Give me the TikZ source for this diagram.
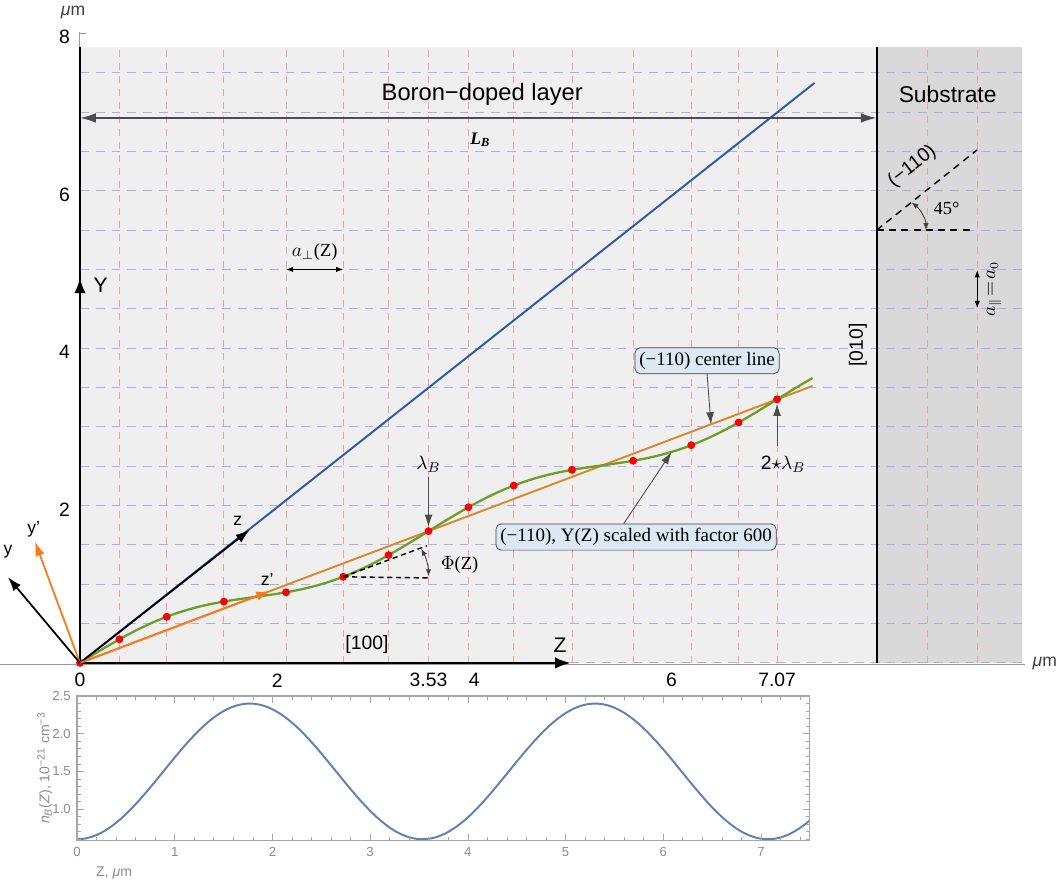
\documentclass[tikz,border=0pt]{standalone}
\usepackage{fontspec}
\setmainfont{Liberation Sans}
\newfontfamily\tms{Liberation Serif}
\usetikzlibrary{arrows.meta,positioning}

\definecolor{layergray}{HTML}{EFEFEF}
\definecolor{subgray}{HTML}{D9D9D9}
\definecolor{zgridred}{HTML}{F0A0A0}
\definecolor{ygridblue}{HTML}{A8AEEE}
\definecolor{mmablue}{HTML}{2F58A6}
\definecolor{mmagreen}{HTML}{6C9F27}
\definecolor{mmaorange}{HTML}{D9892C}
\definecolor{brightorange}{HTML}{FF7818}
\definecolor{plotblue}{HTML}{5E81B5}
\definecolor{boxblue}{HTML}{DCE9F5}

\newcommand{\fsz}[1]{\fontsize{#1pt}{#1pt}\selectfont}

\begin{document}
\begin{tikzpicture}[
x=1.972cm, y=1.574cm,
node distance = 1mm and 1mm,
axisline/.style={line width=1.6pt},
zgrid/.style={draw=zgridred, dash pattern=on 4pt off 3.5pt, line width=0.5pt},
ygrid/.style={draw=ygridblue, dash pattern=on 5pt off 4pt, line width=0.6pt},
dot/.style={circle, fill=red, inner sep=0pt, minimum size=4.5pt},
callout/.style={draw=black!75, fill=boxblue, rounded corners=3pt, inner sep=2.5pt, font=\tms\fsz{10.8}},
pointer/.style={draw=black!70, line width=0.5pt, -{Latex[length=7pt,width=4.5pt]}},
dimarrow/.style={line width=0.5pt, {Latex[length=4pt,width=3pt]}-{Latex[length=4pt,width=3pt]}},
bigtip/.style={-{Latex[length=8pt,width=5.5pt]}},
ticklab/.style={font=\fsz{11}},
ptick/.style={font=\fsz{7.5}, text=black!45},
]
\useasboundingbox (-0.811,-2.884) rectangle (9.970,8.424);

% layer and substrate
\fill[layergray] (0,0) rectangle (8.08,7.83);
\fill[subgray] (8.08,0) rectangle (9.55,7.83);
\draw[black!40, line width=0.6pt] (-0.81,-0.015) -- (9.58,-0.015);

% grid
\foreach \yy in {0,0.5,...,7.5}
  \draw[ygrid] (0,\yy) -- (9.55,\yy);
\foreach \zz in {0.40,0.88,1.46,2.09,2.67,3.13,3.535,3.94,4.40,4.99,5.61,6.20,6.68,7.07,8.59,9.10}
  \draw[zgrid] (\zz,0) -- (\zz,7.83);

% lines
\coordinate (o) at (0,0);
\draw[mmablue, line width=1.1pt] (o) -- (7.45,7.37);
\draw[mmaorange, line width=1.1pt] (o) -- (7.43,3.52);
\draw[mmagreen, line width=1.3pt, samples=150, domain=0:7.43] plot (\x,{0.4737*\x+0.17*sin(360*\x/3.535)});

\node[dot] at (o) {};
\foreach \zz [count=\i] in {0.40,0.88,1.46,2.09,2.67,3.13,3.535,3.94,4.40,4.99,5.61,6.20,6.68,7.07}
  \node[dot] (d\i) at (\zz,{0.4737*\zz+0.17*sin(360*\zz/3.535)}) {};

% axes
\draw[axisline] (o) -- (0,7.83);
\draw[black!40, line width=0.6pt] (0,7.83) -- (0,8.02) (0,8) -- (0.06,8);
\draw[axisline, -{Latex[length=9pt,width=6.5pt]}] (o) -- (0,4.9) coordinate (ytip);
\node[font=\fsz{12}] (ylab) at (0.21,4.8) {Y};
\draw[axisline, -{Latex[length=9pt,width=6.5pt]}] (o) -- (4.98,0) coordinate (ztip);
\node[font=\fsz{12}] (zlab) at (4.87,0.23) {Z};
\draw[line width=1.3pt] (8.08,0) -- (8.08,7.83);

% rotated frames
\draw[line width=1pt, bigtip] (o) -- (1.72,1.69) coordinate (zt);
\node[font=\fsz{10}] (zl) at (1.60,1.80) {z};
\draw[brightorange, line width=1pt, bigtip] (o) -- (1.93,0.914) coordinate (zpt);
\node[font=\fsz{10}] (zpl) at (1.90,1.06) {z'};
\draw[brightorange, line width=1pt, bigtip] (o) -- (-0.456,1.54) coordinate (ypt);
\node[font=\fsz{10}] (ypl) at (-0.47,1.70) {y'};
\draw[line width=1pt, bigtip] (o) -- (-0.73,1.09) coordinate (yt);
\node[font=\fsz{10}] (yl) at (-0.73,1.41) {y};

% labels of the layers
\node[font=\fsz{13.5}] (layer) at (4.08,7.22) {Boron−doped layer};
\node[font=\fsz{13}] (subs) at (8.80,7.22) {Substrate};
\coordinate (lb1) at (0,6.925);
\coordinate (lb2) at (8.08,6.925);
\draw[black!70, line width=1pt, {Latex[length=9pt,width=5.5pt]}-{Latex[length=9pt,width=5.5pt]}] (lb1) -- (lb2);
\node[font=\tms\bfseries\itshape\fsz{10}] (lb) at (4.06,6.65) {L\textsubscript{B}};

\coordinate (ap1) at (2.09,5.0);
\coordinate (ap2) at (2.67,5.0);
\draw[dimarrow] (ap1) -- (ap2);
\node[font=\tms\fsz{10.5}] (apl) at (2.38,5.22) {$a_{\perp}$(Z)};

\node[rotate=90, font=\fsz{11}] (dir010) at (7.89,4.04) {[010]};
\node[font=\fsz{11}] (dir100) at (2.91,0.23) {[100]};

% substrate plane
\coordinate (pc) at (8.08,5.5);
\draw[dash pattern=on 4pt off 3pt, line width=0.8pt] (pc) -- (9.10,6.52);
\draw[dash pattern=on 4pt off 3pt, line width=0.8pt] (pc) -- (9.05,5.5);
\draw[black!75, dimarrow] (8.58,5.5) arc[start angle=0, end angle=45, radius=0.5];
\node[rotate=38, font=\fsz{11}, inner sep=1pt] (plane) at (8.44,6.31) {(−110)};
\node[font=\tms\fsz{10.5}] (ang) at (8.79,5.77) {45°};
\coordinate (ap3) at (9.10,4.99);
\coordinate (ap4) at (9.10,4.51);
\draw[dimarrow] (ap3) -- (ap4);
\node[rotate=90, font=\tms\fsz{10.5}] (apar) at (9.27,4.75) {$a_{\parallel}\!=\!a_0$};

% wavelengths
\node[font=\fsz{11}] (lam) at (3.535,2.52) {$\lambda_B$};
\draw[pointer] (3.535,2.36) -- (d7.north);
\node[font=\fsz{11}] (lam2) at (7.13,2.52) {2$\star\lambda_B$};
\draw[pointer] (7.07,2.76) -- (d14.south);

% angle Phi
\draw[dash pattern=on 3pt off 2pt, line width=0.8pt] (d5.center) -- (3.535,1.08);
\draw[dash pattern=on 3pt off 2pt, line width=0.8pt] (d5.center) -- (3.52,1.49);
\draw[black!75, dimarrow] (3.535,1.10) arc[start angle=0, end angle=24, radius=0.865];
\node[font=\tms\fsz{10.5}] (phi) at (3.85,1.25) {$\Phi$(Z)};

% callouts
\node[callout] (cline) at (6.36,3.84) {(−110) center line};
\coordinate (cltip) at (6.40,3.03);
\draw[pointer] (cline.south) -- (cltip);
\node[callout] (cwave) at (5.64,1.60) {(−110), Y(Z) scaled with factor 600};
\coordinate (cwtip) at (6.0,2.68);
\draw[pointer] ([xshift=-7pt]cwave.north) -- (cwtip);

% ticks
\foreach \zz/\lab in {0/0,2/2,3.535/3.53,4/4,6/6,7.07/7.07}
  \node[ticklab] at (\zz,-0.22) {\lab};
\foreach \yy in {2,4,6,8}
  \node[ticklab, anchor=east] at (-0.04,\yy-0.05) {\yy};
\node[font=\fsz{10}, text=black!75] (umy) at (-0.07,8.27) {\textit{μ}m};
\node[font=\fsz{10}, text=black!75, anchor=west] (umz) at (9.60,0) {\textit{μ}m};

% doping profile
\begin{scope}[shift={(-0.030,-2.815)}, xscale=0.991, yscale=0.958]
  \draw[plotblue, line width=1.1pt, domain=0:7.5, samples=150] plot (\x,{1.5-0.9*cos(360*\x/3.535)});
  \draw[black!35, line width=0.6pt] (0,0.58) rectangle (7.5,2.5);
  \foreach \x in {0,...,7} {
    \draw[black!35] (\x,0.58) -- ++(0,4pt) (\x,2.5) -- ++(0,-4pt);
    \node[ptick, below] at (\x,0.58) {\x};
  }
  \foreach \x in {0.2,0.4,...,7.41}
    \draw[black!35] (\x,0.58) -- ++(0,2.5pt) (\x,2.5) -- ++(0,-2.5pt);
  \foreach \v in {1.0,1.5,2.0,2.5} {
    \draw[black!35] (0,\v) -- ++(4pt,0) (7.5,\v) -- ++(-4pt,0);
    \node[ptick, left] at (0,\v) {\v};
  }
  \foreach \v in {0.6,0.7,...,2.45}
    \draw[black!35] (0,\v) -- ++(2.5pt,0) (7.5,\v) -- ++(-2.5pt,0);
  \node[ptick, font=\fsz{8}] (zax) at (0.38,0.15) {Z, \textit{μ}m};
  \node[ptick, font=\fsz{8}, rotate=90] (nax) at (-0.33,1.545) {\textit{n}\textsubscript{\textit{B}}(\textit{Z}), 10\textsuperscript{−21} cm\textsuperscript{−3}};
\end{scope}
\end{tikzpicture}
\end{document}
